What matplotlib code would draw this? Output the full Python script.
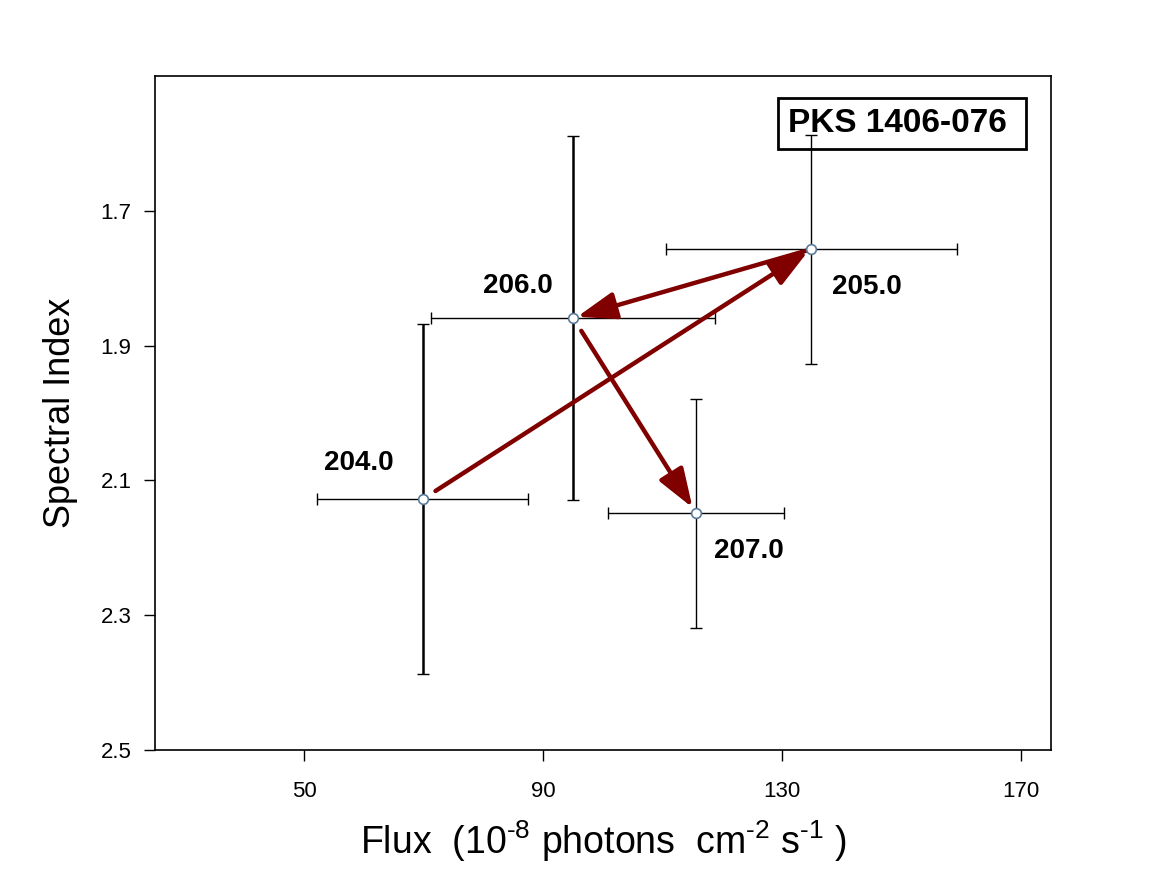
import matplotlib
matplotlib.use("Agg")
import matplotlib.pyplot as plt

plt.rcParams['font.family'] = ['Liberation Sans', 'DejaVu Sans']
plt.rcParams['mathtext.default'] = 'regular'

# data
labels = ["204.0", "205.0", "206.0", "207.0"]
flux = [69.8, 134.9, 95.0, 115.6]
flux_err = [17.7, 24.4, 23.8, 14.7]
index = [2.128, 1.757, 1.859, 2.149]
index_err = [0.26, 0.17, 0.27, 0.17]

x_ticks = [50, 90, 130, 170]
y_ticks = [1.7, 1.9, 2.1, 2.3, 2.5]

# style bits
v_lw = [1.8, 1.0, 1.8, 1.0]
label_off = [(-64, 36), (55, -38), (-55, 32), (53, -38)]   # pixels
arrow_shrink = [(11, 3), (3, 3), (11, 5)]

fig = plt.figure(figsize=(11.58, 8.94), dpi=100)
ax = fig.add_axes([0.1339, 0.1611, 0.7737, 0.7539])

for i in range(len(flux)):
    ax.errorbar(flux[i], index[i], xerr=flux_err[i], fmt='none',
                ecolor='black', elinewidth=1.0, capsize=4, capthick=1.0, zorder=3)
    ax.errorbar(flux[i], index[i], yerr=index_err[i], fmt='none',
                ecolor='black', elinewidth=v_lw[i], capsize=4, capthick=1.0, zorder=3)

# time order: 204 -> 205 -> 206 -> 207
for k in range(len(flux) - 1):
    sa, sb = arrow_shrink[k]
    ax.annotate("", xy=(flux[k + 1], index[k + 1]), xytext=(flux[k], index[k]),
                arrowprops=dict(arrowstyle='-|>,head_length=0.85,head_width=0.3',
                                mutation_scale=28, lw=3.2, color='#800000',
                                shrinkA=sa, shrinkB=sb), zorder=4)

ax.plot(flux, index, 'o', ms=7, mfc='white', mec='#5a7a9a', mew=1.2,
        ls='none', zorder=5)

for i, lab in enumerate(labels):
    ax.annotate(lab, (flux[i], index[i]), xytext=label_off[i],
                textcoords='offset pixels', ha='center', va='center',
                fontsize=20, fontweight='bold')

ax.text(0.834, 0.929, "PKS 1406-076 ", transform=ax.transAxes,
        ha='center', va='center', fontsize=24, fontweight='bold', zorder=1,
        bbox=dict(boxstyle='square,pad=0.3', fc='white', ec='black', lw=2))

ax.set_xlim(25, 175)
ax.set_ylim(2.5, 1.5)
ax.set_xticks(x_ticks)
ax.set_yticks(y_ticks)
ax.set_xticklabels([str(t) for t in x_ticks])
ax.set_yticklabels([f"{t:.1f}" for t in y_ticks])
ax.tick_params(direction='out', length=8, width=1, labelsize=16)
ax.tick_params(axis='y', pad=9)
ax.tick_params(axis='x', pad=14)

for s in ax.spines.values():
    s.set_linewidth(1.2)

ax.set_xlabel("Flux  (10$^{\u20108}$ photons  cm$^{\u20102}$ s$^{\u20101}$ )",
              fontsize=27, labelpad=12)
ax.set_ylabel("Spectral Index", fontsize=26, labelpad=16)

fig.savefig("out.png", dpi=100)
